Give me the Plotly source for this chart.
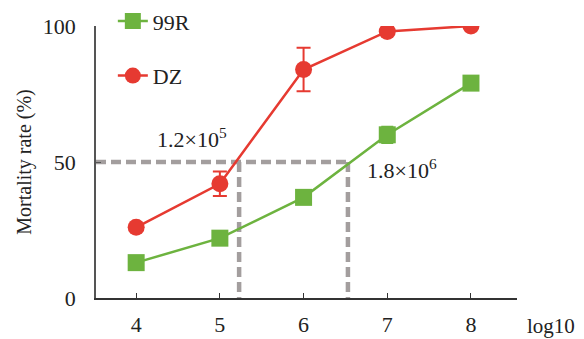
import plotly.graph_objects as go

doses = [4, 5, 6, 7, 8]
r99_vals = [13, 22, 37, 60, 79]
r99_err = [0, 0, 0, 3, 0]
dz_vals = [26, 42, 84, 98, 100]
dz_err = [0, 4.5, 8, 0, 0]
ld50_x = [5.23, 6.53]
ld50_labels = ["1.2×10<sup>5</sup>", "1.8×10<sup>6</sup>"]
y_ticks = [0, 50, 100]

GREEN = "#6db33f"
RED = "#e63a31"
GRAY = "#a39e9e"
FONT = "Liberation Serif"

fig = go.Figure()

# LD50 guide lines
fig.add_trace(go.Scatter(x=[3.52, ld50_x[1]], y=[50, 50], mode="lines",
                         line=dict(color=GRAY, width=4.5, dash="10px,5px"),
                         showlegend=False, hoverinfo="skip"))
for xv in ld50_x:
    fig.add_trace(go.Scatter(x=[xv, xv], y=[50, 0], mode="lines",
                             line=dict(color=GRAY, width=4.5, dash="10px,5px"),
                             showlegend=False, hoverinfo="skip"))

fig.add_trace(go.Scatter(x=doses, y=r99_vals, name="99R", mode="lines+markers",
                         legendgroup="a",
                         line=dict(color=GREEN, width=2.5),
                         marker=dict(symbol="square", size=17, color=GREEN),
                         error_y=dict(type="data", array=r99_err, color=GREEN,
                                      thickness=2, width=6)))
fig.add_trace(go.Scatter(x=doses, y=dz_vals, name="DZ", mode="lines+markers",
                         legendgroup="b",
                         line=dict(color=RED, width=2.5),
                         marker=dict(symbol="circle", size=17, color=RED),
                         error_y=dict(type="data", array=dz_err, color=RED,
                                      thickness=2, width=7)))

fig.add_annotation(x=4.67, y=59, xref="x", yref="y", text=ld50_labels[0],
                   showarrow=False, font=dict(family=FONT, size=22, color="#222"))
fig.add_annotation(x=7.17, y=47.5, xref="x", yref="y", text=ld50_labels[1],
                   showarrow=False, font=dict(family=FONT, size=22, color="#222"))
fig.add_annotation(x=1.0, y=-0.104, xref="paper", yref="paper", xanchor="left",
                   yanchor="middle", text="log10", showarrow=False, xshift=8,
                   font=dict(family=FONT, size=21, color="#222"))

fig.update_layout(
    width=576, height=331,
    margin=dict(l=88, r=67, t=18, b=41, autoexpand=False),
    plot_bgcolor="white", paper_bgcolor="white",
    font=dict(family=FONT, size=22, color="#222"),
    showlegend=True,
    legend=dict(x=0.04, y=1.095, xanchor="left", yanchor="top",
                traceorder="grouped", tracegroupgap=23,
                bgcolor="rgba(0,0,0,0)", font=dict(family=FONT, size=22)),
    xaxis=dict(range=[3.52, 8.55], tickvals=doses, ticks="inside", ticklen=5,
               tickcolor="#333", showline=True, linecolor="#333", linewidth=1.5,
               showgrid=False, zeroline=False, ticklabelstandoff=6),
    yaxis=dict(range=[0, 100], tickvals=y_ticks, ticks="inside", ticklen=5,
               tickcolor="#555", showline=True, linecolor="#555", linewidth=1.5,
               showgrid=False, zeroline=False, ticklabelstandoff=14,
               title=dict(text="Mortality rate (%)", standoff=6,
                          font=dict(family=FONT, size=20))),
)

fig.write_html("out.html")
